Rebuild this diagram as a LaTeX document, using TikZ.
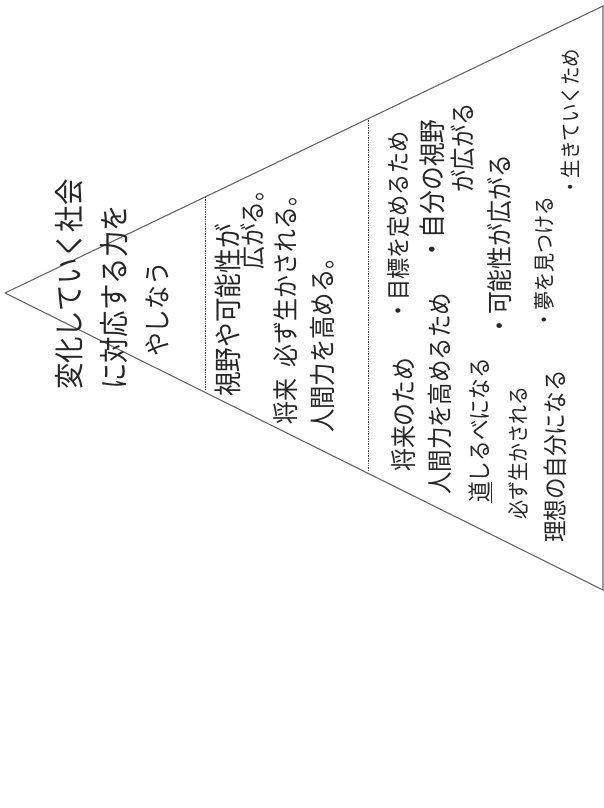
\documentclass[tikz,border=0pt]{standalone}
\usepackage{fontspec}
\usepackage{tikz}
\newfontfamily\cjk[FakeStretch=.88]{Noto Sans CJK JP}

\begin{document}
\begin{tikzpicture}[
        x=1pt, y=-1pt,
        edgeline/.style={draw=black!60, line width=1.1pt},
        divline/.style={draw=black!75, line width=.7pt, densely dotted},
        hand/.style={rotate=90, anchor=west, inner sep=0pt, text=black!85, font=\fontsize{#1}{#1}\selectfont\cjk},
    ]
        \useasboundingbox (0,0) rectangle (604,808);
        % pyramid
        \coordinate (apex) at (5,293);
        \coordinate (topend) at (603,6);
        \coordinate (botend) at (603,590);
        \coordinate (upA) at (205,197);
        \coordinate (upB) at (205,390);
        \coordinate (midA) at (368,118);
        \coordinate (midB) at (368,470);
        \draw[edgeline] (apex) -- (topend) -- (botend) -- cycle;
        \draw[divline] (upA) -- (upB);
        \draw[divline] (midA) -- (midB);
        % top
        \node[hand=30] (topa) at (69,390) {変化していく社会};
        \node[hand=30] (topb) at (114,390) {に対応する力を};
        \node[hand=27] (topc) at (157,357) {やしなう};
        % middle
        \node[hand=28] (mida) at (228,397) {視野や可能性が};
        \node[hand=26] (midb) at (253,270) {広がる。};
        \node[hand=26] (midc) at (286,425) {将来\hspace{12pt}必ず生かされる。};
        \node[hand=26.5] (midd) at (322,433) {人間力を高める。};
        % bottom, left column
        \node[hand=26] (lefta) at (404,472) {将来のため};
        \node[hand=25.5] (leftb) at (440,495) {人間力を高めるため};
        \node[hand=23.5] (leftc) at (480,503) {\underline{道}しるべになる};
        \node[hand=21.6] (leftd) at (518,520) {必ず生かされる};
        \node[hand=24.5] (lefte) at (555,543) {理想の自分になる};
        % bottom, right column
        \node[hand=24] (righta) at (398,322) {・目標を定めるため};
        \node[hand=27] (rightb) at (432,262) {・自分の視野};
        \node[hand=25.5] (rightc) at (463,193) {が広がる};
        \node[hand=26] (rightd) at (500,338) {・可能性が広がる};
        \node[hand=21.6] (righte) at (544,330) {・夢を見つける};
        \node[hand=21] (rightf) at (570,197) {・生きていくため};
    \end{tikzpicture}
\end{document}
